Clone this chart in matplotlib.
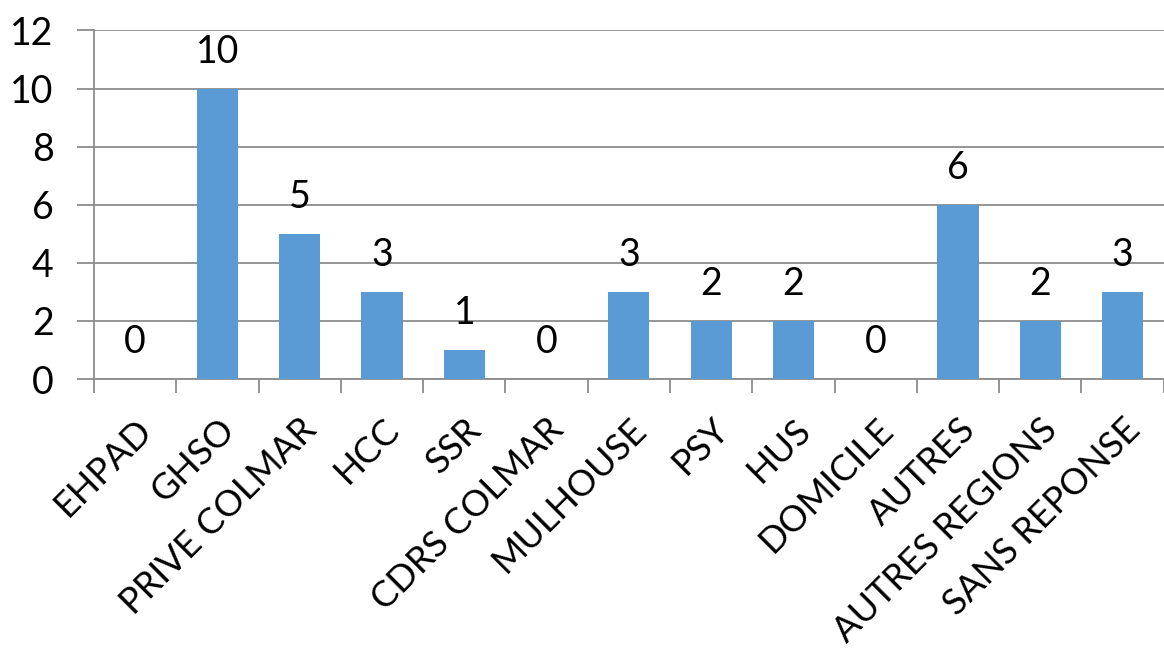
import matplotlib
matplotlib.use("Agg")
import matplotlib.pyplot as plt
import numpy as np

categories = ["EHPAD", "GHSO", "PRIVE COLMAR", "HCC", "SSR", "CDRS COLMAR",
              "MULHOUSE", "PSY", "HUS", "DOMICILE", "AUTRES",
              "AUTRES REGIONS", "SANS REPONSE"]
values = [0, 10, 5, 3, 1, 0, 3, 2, 2, 0, 6, 2, 3]
y_ticks = [0, 2, 4, 6, 8, 10, 12]

plt.rcParams["font.family"] = ["Lato", "DejaVu Sans"]
fs = 27

fig = plt.figure(figsize=(11.64, 6.48), dpi=100)
ax = fig.add_axes([0.0808, 0.415, 0.919, 0.538])

x = np.arange(len(categories))
ax.bar(x, values, width=0.5, color="#5B9BD5", zorder=3)

for xi, v in zip(x, values):
    ax.text(xi, v + 0.65, str(v), ha="center", va="bottom", fontsize=fs)

ax.set_xlim(-0.5, len(categories) - 0.5)
ax.set_ylim(0, 12)
ax.set_yticks(y_ticks)
ax.set_yticklabels([str(t) for t in y_ticks], fontsize=fs)
ax.yaxis.grid(True, color="#8c8c8c", linewidth=1.3, zorder=0)

ax.set_xticks(x)
ax.set_xticklabels(categories, fontsize=26, rotation=45, ha="right",
                   va="top", rotation_mode="anchor")
ax.tick_params(axis="x", length=0, pad=24)
ax.set_xticks(np.arange(len(categories) + 1) - 0.5, minor=True)
ax.tick_params(axis="x", which="minor", length=10, color="#8c8c8c", width=1.3)
ax.tick_params(axis="y", length=12, color="#8c8c8c", width=1.3, pad=17)

for s in ["top", "right"]:
    ax.spines[s].set_visible(False)
for s in ["left", "bottom"]:
    ax.spines[s].set_color("#8c8c8c")
    ax.spines[s].set_linewidth(1.3)

fig.savefig("out.png", dpi=100)
